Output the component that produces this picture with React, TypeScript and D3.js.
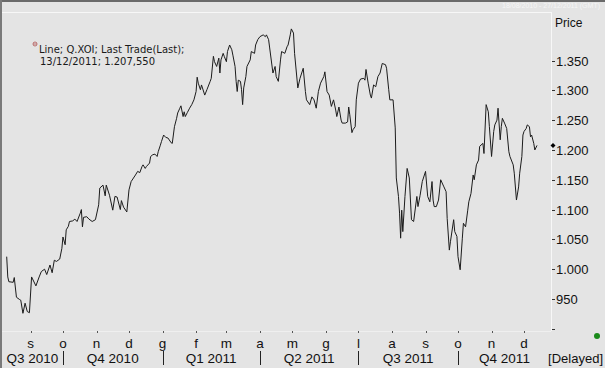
import React from 'react';
import * as d3 from 'd3';

// Q.XOI last trade
const dates = [
  '2010-08-10','2010-08-11','2010-08-12','2010-08-16','2010-08-17','2010-08-19','2010-08-22','2010-08-23','2010-08-25','2010-08-27',
  '2010-08-29','2010-08-31','2010-09-02','2010-09-06','2010-09-09','2010-09-11','2010-09-14','2010-09-16','2010-09-19','2010-09-21',
  '2010-09-23','2010-09-25','2010-09-28','2010-09-30','2010-10-01','2010-10-03','2010-10-04','2010-10-06','2010-10-07','2010-10-10',
  '2010-10-12','2010-10-14','2010-10-17','2010-10-18','2010-10-19','2010-10-20','2010-10-23','2010-10-25','2010-10-28','2010-10-31',
  '2010-11-03','2010-11-04','2010-11-07','2010-11-09','2010-11-10','2010-11-13','2010-11-16','2010-11-18','2010-11-20','2010-11-23',
  '2010-11-24','2010-11-26','2010-11-29','2010-12-01','2010-12-03','2010-12-07','2010-12-09','2010-12-11','2010-12-13','2010-12-14',
  '2010-12-16','2010-12-17','2010-12-20','2010-12-21','2010-12-23','2010-12-25','2010-12-27','2010-12-28','2010-12-30','2010-12-31',
  '2011-01-02','2011-01-04','2011-01-06','2011-01-09','2011-01-10','2011-01-12','2011-01-14','2011-01-15','2011-01-17','2011-01-18',
  '2011-01-20','2011-01-21','2011-01-22','2011-01-24','2011-01-26','2011-01-28','2011-01-30','2011-02-01','2011-02-02','2011-02-03',
  '2011-02-05','2011-02-06','2011-02-09','2011-02-11','2011-02-14','2011-02-15','2011-02-17','2011-02-18','2011-02-20','2011-02-22',
  '2011-02-23','2011-02-24','2011-02-26','2011-02-27','2011-03-01','2011-03-02','2011-03-04','2011-03-06','2011-03-07','2011-03-09',
  '2011-03-10','2011-03-11','2011-03-12','2011-03-14','2011-03-15','2011-03-16','2011-03-17','2011-03-19','2011-03-20','2011-03-23',
  '2011-03-24','2011-03-27','2011-03-28','2011-03-30','2011-04-01','2011-04-04','2011-04-06','2011-04-07','2011-04-09','2011-04-10',
  '2011-04-13','2011-04-15','2011-04-16','2011-04-18','2011-04-20','2011-04-21','2011-04-24','2011-04-26','2011-04-27','2011-04-29',
  '2011-04-30','2011-05-02','2011-05-03','2011-05-06','2011-05-08','2011-05-11','2011-05-13','2011-05-14','2011-05-17','2011-05-19',
  '2011-05-21','2011-05-23','2011-05-25','2011-05-27','2011-05-30','2011-05-31','2011-06-02','2011-06-04','2011-06-06','2011-06-08',
  '2011-06-10','2011-06-11','2011-06-13','2011-06-15','2011-06-16','2011-06-19','2011-06-21','2011-06-22','2011-06-23','2011-06-25',
  '2011-06-26','2011-06-28','2011-06-29','2011-07-01','2011-07-03','2011-07-06','2011-07-07','2011-07-08','2011-07-10','2011-07-12',
  '2011-07-13','2011-07-15','2011-07-17','2011-07-19','2011-07-21','2011-07-23','2011-07-26','2011-07-27','2011-07-29','2011-07-30',
  '2011-08-02','2011-08-04','2011-08-05','2011-08-07','2011-08-08','2011-08-09','2011-08-10','2011-08-11','2011-08-13','2011-08-15',
  '2011-08-17','2011-08-19','2011-08-21','2011-08-24','2011-08-25','2011-08-27','2011-08-29','2011-09-01','2011-09-03','2011-09-05',
  '2011-09-07','2011-09-08','2011-09-09','2011-09-11','2011-09-13','2011-09-15','2011-09-18','2011-09-20','2011-09-21','2011-09-23',
  '2011-09-24','2011-09-27','2011-09-28','2011-09-30','2011-10-01','2011-10-03','2011-10-05','2011-10-06','2011-10-08','2011-10-10',
  '2011-10-11','2011-10-13','2011-10-15','2011-10-16','2011-10-18','2011-10-20','2011-10-21','2011-10-24','2011-10-25','2011-10-27',
  '2011-10-29','2011-10-30','2011-11-01','2011-11-03','2011-11-04','2011-11-06','2011-11-07','2011-11-09','2011-11-10','2011-11-11',
  '2011-11-13','2011-11-15','2011-11-17','2011-11-18','2011-11-21','2011-11-22','2011-11-24','2011-11-26','2011-11-27','2011-11-29',
  '2011-11-30','2011-12-01','2011-12-03','2011-12-04','2011-12-06','2011-12-07','2011-12-08','2011-12-10','2011-12-11','2011-12-13',
];

const prices = [
  1021, 987, 979, 978, 986, 953, 949, 948, 926, 943,
  929, 927, 987, 972, 987, 996, 1000, 991, 1007, 994,
  1015, 1013, 1017, 1035, 1054, 1041, 1066, 1072, 1080, 1081,
  1084, 1080, 1094, 1100, 1071, 1087, 1088, 1084, 1080, 1083,
  1108, 1136, 1141, 1123, 1141, 1124, 1099, 1122, 1121, 1100,
  1115, 1104, 1096, 1133, 1147, 1158, 1164, 1162, 1172, 1175,
  1169, 1172, 1178, 1189, 1192, 1193, 1189, 1197, 1208, 1214,
  1225, 1221, 1220, 1212, 1211, 1239, 1253, 1262, 1270, 1274,
  1256, 1264, 1256, 1263, 1270, 1276, 1284, 1298, 1322, 1312,
  1301, 1309, 1292, 1301, 1315, 1320, 1357, 1348, 1340, 1354,
  1329, 1351, 1362, 1357, 1348, 1365, 1376, 1368, 1359, 1340,
  1315, 1298, 1317, 1315, 1301, 1276, 1304, 1323, 1340, 1351,
  1365, 1362, 1376, 1385, 1390, 1393, 1390, 1393, 1385, 1371,
  1329, 1340, 1323, 1315, 1351, 1365, 1362, 1373, 1376, 1393,
  1403, 1396, 1362, 1304, 1320, 1337, 1298, 1284, 1276, 1289,
  1284, 1270, 1298, 1312, 1323, 1331, 1298, 1292, 1273, 1284,
  1267, 1256, 1272, 1250, 1245, 1245, 1247, 1272, 1259, 1229,
  1234, 1239, 1284, 1312, 1319, 1320, 1317, 1335, 1312, 1292,
  1287, 1309, 1306, 1323, 1329, 1345, 1343, 1337, 1301, 1284,
  1284, 1237, 1153, 1122, 1094, 1052, 1099, 1063, 1122, 1169,
  1153, 1083, 1080, 1122, 1105, 1124, 1147, 1164, 1122, 1113,
  1147, 1116, 1105, 1105, 1116, 1150, 1138, 1130, 1085, 1032,
  1046, 1083, 1063, 1055, 1021, 999, 1052, 1077, 1071, 1099,
  1113, 1127, 1158, 1150, 1175, 1183, 1206, 1211, 1194, 1276,
  1264, 1239, 1189, 1231, 1242, 1250, 1270, 1217, 1239, 1253,
  1245, 1236, 1197, 1189, 1175, 1161, 1116, 1138, 1161, 1189,
  1225, 1231, 1236, 1242, 1239, 1222, 1225, 1211, 1200, 1207.55,
];

const yTicks = [900, 950, 1000, 1050, 1100, 1150, 1200, 1250, 1300, 1350];
const yTickLabels = ['', '950', '1.000', '1.050', '1.100', '1.150', '1.200', '1.250', '1.300', '1.350'];

// italian month initials, sep 2010 .. dec 2011
const monthLabels = ['s', 'o', 'n', 'd', 'g', 'f', 'm', 'a', 'm', 'g', 'l', 'a', 's', 'o', 'n', 'd'];
const quarterLabels = ['Q3 2010', 'Q4 2010', 'Q1 2011', 'Q2 2011', 'Q3 2011', 'Q4 2011'];
const quarterStarts = ['2010-07-01', '2010-10-01', '2011-01-01', '2011-04-01', '2011-07-01', '2011-10-01', '2012-01-01'];

const legendLines = ['Line; Q.XOI; Last Trade(Last);', '13/12/2011; 1.207,550'];

const W = 605;
const H = 368;
const plotLeft = 2;
const plotRight = 551;
const plotTop = 12;
const plotBottom = 331;
const bg = '#e4e4e4';
const sans = '"Liberation Sans", Arial, sans-serif';

const parse = d3.utcParse('%Y-%m-%d');

export default function App() {
  const data = dates.map((d, i) => ({ date: parse(d) as Date, value: prices[i] }));

  const x = d3.scaleUtc()
    .domain([parse('2010-09-01') as Date, parse('2011-10-01') as Date])
    .range([30.5, 458]);
  const y = d3.scaleLinear().domain([950, 1350]).range([299, 60.5]);

  const line = d3.line<{ date: Date; value: number }>()
    .x(d => x(d.date))
    .y(d => y(d.value));

  const months = d3.utcMonths(parse('2010-09-01') as Date, parse('2012-01-01') as Date);
  const qStarts = quarterStarts.map(s => parse(s) as Date);
  const last = data[data.length - 1];

  return (
    <svg width={W} height={H} style={{ position: 'absolute', left: 0, top: 0, display: 'block' }}>
      <rect x={0} y={0} width={W} height={H} fill={bg} />
      {/* outer frame */}
      <rect x={0} y={0} width={W} height={2} fill="#6a6a6a" />
      <rect x={0} y={0} width={2} height={H} fill="#7a7a7a" />
      <text x={600} y={8} textAnchor="end" fontFamily={sans} fontSize={7} fill="#f6f6f6">
        18/08/2010 - 27/12/2011 (GMT)
      </text>

      {/* plot frame */}
      <line x1={plotLeft} x2={plotRight} y1={plotTop + 0.5} y2={plotTop + 0.5} stroke="#f7f7f7" />
      <line x1={plotRight + 0.5} x2={plotRight + 0.5} y1={plotTop} y2={plotBottom} stroke="#f7f7f7" />
      <line x1={plotLeft} x2={plotRight} y1={plotBottom + 0.5} y2={plotBottom + 0.5} stroke="#efefef" />

      {/* price line */}
      <path d={line(data) ?? ''} fill="none" stroke="#1c1c1c" strokeWidth={1} strokeLinejoin="round" />

      {/* last value marker */}
      <path
        d={`M${plotRight + 2},${y(last.value) - 2.5}l2.5,2.5l-2.5,2.5l-2.5,-2.5z`}
        fill="#000"
      />

      {/* legend */}
      <g>
        <circle cx={35} cy={44} r={2} fill="none" stroke="#b05050" strokeWidth={0.8} />
        <line x1={33.5} x2={36.5} y1={44} y2={44} stroke="#b05050" strokeWidth={0.8} />
        {legendLines.map((t, i) => (
          <text key={t} x={i === 0 ? 39 : 40} y={53 + i * 12} fontFamily='"DejaVu Sans", Verdana, sans-serif'
            fontSize={10} fill="#1a1a1a">
            {t}
          </text>
        ))}
      </g>

      {/* y axis */}
      <text x={555} y={27} fontFamily={sans} fontSize={12} fill="#111">Price</text>
      {yTicks.map((v, i) => (
        <g key={v} transform={`translate(0,${Math.round(y(v)) + 0.5})`}>
          <line x1={552} x2={555} stroke="#333" />
          <text x={556} dy="0.36em" fontFamily={sans} fontSize={13} fill="#111">{yTickLabels[i]}</text>
        </g>
      ))}

      {/* x axis: months */}
      {months.map((m, i) => (
        <g key={i}>
          <line x1={Math.round(x(m)) + 0.5} x2={Math.round(x(m)) + 0.5} y1={331} y2={333} stroke="#555" />
          <text x={x(m)} y={348} textAnchor="middle" fontFamily={sans} fontSize={13.5} fill="#111">
            {monthLabels[i]}
          </text>
        </g>
      ))}

      {/* x axis: quarters */}
      {quarterLabels.map((q, i) => {
        const a = Math.max(x(qStarts[i]), plotLeft);
        const b = Math.min(x(qStarts[i + 1]), plotRight);
        return (
          <text key={q} x={(a + b) / 2} y={363} textAnchor="middle" fontFamily={sans} fontSize={13.5} fill="#111">
            {q}
          </text>
        );
      })}
      {qStarts.slice(1, -1).map((d, i) => (
        <line key={i} x1={Math.round(x(d)) + 0.5} x2={Math.round(x(d)) + 0.5} y1={351} y2={365} stroke="#222" />
      ))}

      <circle cx={597} cy={336} r={3} fill="#1a8a1a" />
      <text x={603} y={363} textAnchor="end" fontFamily={sans} fontSize={13} fill="#111">[Delayed]</text>
    </svg>
  );
}
